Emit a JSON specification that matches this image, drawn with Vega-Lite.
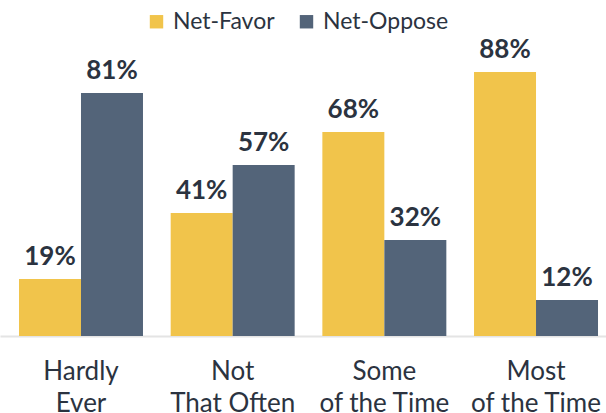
{
  "$schema": "https://vega.github.io/schema/vega-lite/v6.json",
  "width": 606,
  "height": 336,
  "autosize": "none",
  "padding": {"left": 0, "right": 0, "top": 0, "bottom": 77},
  "background": "white",
  "config": {
    "view": {"stroke": null},
    "font": "Lato",
    "axis": {"labelFont": "Lato", "labelColor": "#2b3340"},
    "legend": {"labelFont": "Lato"}
  },
  "data": {
    "values": [
      {"cat": "Hardly|Ever", "series": "Net-Favor", "value": 19, "label": "19%"},
      {"cat": "Hardly|Ever", "series": "Net-Oppose", "value": 81, "label": "81%"},
      {"cat": "Not|That Often", "series": "Net-Favor", "value": 41, "label": "41%"},
      {"cat": "Not|That Often", "series": "Net-Oppose", "value": 57, "label": "57%"},
      {"cat": "Some|of the Time", "series": "Net-Favor", "value": 68, "label": "68%"},
      {"cat": "Some|of the Time", "series": "Net-Oppose", "value": 32, "label": "32%"},
      {"cat": "Most|of the Time", "series": "Net-Favor", "value": 88, "label": "88%"},
      {"cat": "Most|of the Time", "series": "Net-Oppose", "value": 12, "label": "12%"}
    ]
  },
  "encoding": {
    "x": {
      "field": "cat",
      "type": "nominal",
      "sort": null,
      "scale": {"paddingInner": 0.1826, "paddingOuter": 0.089, "align": 0.704},
      "axis": {
        "title": null,
        "labelAngle": 0,
        "labelExpr": "split(datum.value, '|')",
        "labelFontSize": 26,
        "labelLineHeight": 32,
        "labelPadding": 22,
        "labelBaseline": "top",
        "ticks": false,
        "domainColor": "#e4e4e4",
        "domainWidth": 2
      }
    },
    "xOffset": {"field": "series", "type": "nominal", "scale": {"paddingInner": 0, "paddingOuter": 0}},
    "y": {
      "field": "value",
      "type": "quantitative",
      "scale": {"domain": [0, 112], "nice": false},
      "axis": null
    }
  },
  "layer": [
    {
      "mark": {"type": "bar"},
      "encoding": {
        "color": {
          "field": "series",
          "type": "nominal",
          "scale": {"domain": ["Net-Favor", "Net-Oppose"], "range": ["#F1C44B", "#536479"]},
          "legend": {
            "title": null,
            "orient": "none",
            "legendX": 145,
            "legendY": 10,
            "direction": "horizontal",
            "symbolType": "square",
            "symbolSize": 180,
            "symbolStrokeWidth": 0,
            "labelFontSize": 23,
            "labelColor": "#2b3340",
            "labelOffset": 5,
            "columnPadding": 20
          }
        }
      }
    },
    {
      "mark": {"type": "text", "baseline": "alphabetic", "dy": -14, "fontSize": 26, "fontWeight": "bold", "color": "#2b3340", "font": "Lato"},
      "encoding": {
        "text": {"field": "label", "type": "nominal"},
        "detail": {"field": "series"}
      }
    }
  ]
}
